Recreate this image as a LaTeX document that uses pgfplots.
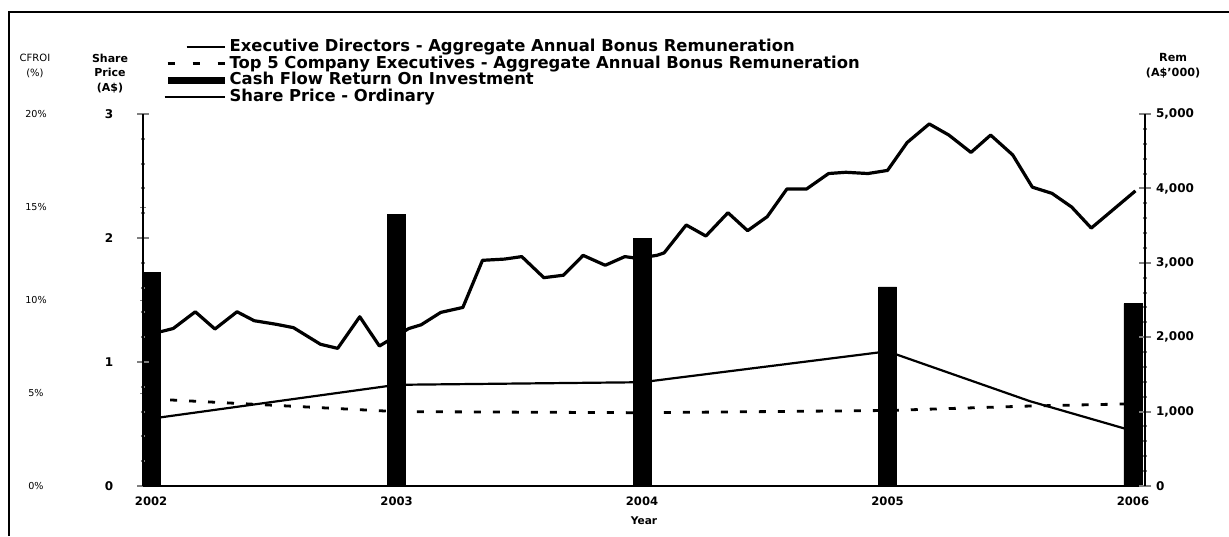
\documentclass[border=0pt]{standalone}
\usepackage{pgfplots}
\pgfplotsset{compat=1.18}
\usepackage{fontspec}
\setmainfont{DejaVu Sans}

\pgfplotstableread{
x y
2002 11.5
2003 14.6
2004 13.3
2005 10.7
2006 9.8
}\cfroi

\pgfplotstableread{
x y
2002.04 1.245
2002.09 1.27
2002.18 1.405
2002.26 1.266
2002.35 1.405
2002.42 1.333
2002.51 1.304
2002.58 1.277
2002.69 1.143
2002.76 1.11
2002.85 1.365
2002.93 1.129
2002.99 1.20
2003.05 1.27
2003.10 1.30
2003.18 1.40
2003.27 1.44
2003.35 1.82
2003.44 1.83
2003.51 1.85
2003.60 1.68
2003.68 1.70
2003.76 1.86
2003.85 1.78
2003.93 1.85
2003.98 1.836
2004.06 1.86
2004.09 1.88
2004.18 2.105
2004.26 2.016
2004.35 2.204
2004.43 2.059
2004.51 2.172
2004.59 2.395
2004.67 2.395
2004.76 2.52
2004.83 2.53
2004.92 2.52
2005.00 2.545
2005.08 2.77
2005.17 2.92
2005.25 2.83
2005.34 2.69
2005.42 2.83
2005.51 2.67
2005.59 2.41
2005.67 2.36
2005.75 2.25
2005.83 2.08
2005.92 2.23
2006.01 2.38
}\share

\pgfplotstableread{
x y
2002 905
2003 1360
2004 1395
2005 1810
2005.58 1140
2006 740
}\execdir

\pgfplotstableread{
x y
2002 1170
2003 1000
2004 985
2005 1015
2005.58 1075
2006 1105
}\topfive

\begin{document}
\begin{tikzpicture}
\path[use as bounding box] (-71.5pt,-25pt) rectangle (543pt,243pt);
\draw[line width=1pt] (-67pt,-25pt) -- (-67pt,237pt) -- (543pt,237pt);

\pgfplotsset{
  base/.style={
    scale only axis, width=501pt, height=186pt,
    xmin=2001.967, xmax=2006.049,
    axis line style={-, line width=1pt},
    ticklabel style={font=\bfseries\fontsize{6}{7}\selectfont},
    /pgf/number format/assume math mode=true,
  }
}

% CFROI axis (bars)
\begin{axis}[base,
  ymin=0, ymax=20,
  axis x line=none,
  axis y line*=left,
  ytick={0,5,10,15,20},
  yticklabels={0\%,5\%,10\%,15\%,20\%},
  yticklabel style={anchor=center, xshift=-52pt, font=\fontsize{4.8}{6}\selectfont},
  major tick length=3pt, tick align=center,
  every axis y label/.style={at={(axis description cs:-0.1078,1.079)}, anchor=south, align=center, font=\fontsize{5}{7.5}\selectfont},
  ylabel={CFROI\\(\%)},
]
\addplot[ybar, bar width=9pt, fill=black, draw=black] table[x=x,y=y] {\cfroi};
\end{axis}

% Share price axis
\begin{axis}[base,
  ymin=0, ymax=3,
  axis x line*=bottom,
  axis y line*=left,
  xtick={2002,2003,2004,2005,2006},
  xticklabels={2002,2003,2004,2005,2006},
  x tick style={draw=none},
  xticklabel style={anchor=north, yshift=1pt, font=\bfseries\fontsize{5.8}{7}\selectfont},
  ytick={0,1,2,3},
  yticklabels={0,1,2,3},
  yticklabel style={anchor=center, xshift=-14pt},
  y tick style={line width=1pt},
  major tick length=6pt, tick align=center,
  minor y tick num=4, minor tick length=2pt,
  every axis y label/.style={at={(axis description cs:-0.0329,1.037)}, anchor=south, align=center, font=\bfseries\fontsize{5.5}{7.3}\selectfont},
  ylabel={Share\\Price\\(A\$)},
  every axis x label/.style={at={(axis description cs:0.5,-0.094)}, anchor=center, font=\bfseries\fontsize{5.3}{7}\selectfont},
  xlabel={Year},
]
\addplot[line width=1.6pt, black, line join=round] table[x=x,y=y] {\share};
\end{axis}

% Remuneration axis
\begin{axis}[base,
  ymin=0, ymax=5000,
  axis x line=none,
  axis y line*=right,
  ytick={0,1000,2000,3000,4000,5000},
  yticklabels={0,{1,000},{2,000},{3,000},{4,000},{5,000}},
  yticklabel style={anchor=west, xshift=-1pt},
  y tick style={line width=1pt},
  major tick length=6pt, tick align=center,
  minor y tick num=4, minor tick length=2pt,
  every axis y label/.style={at={(axis description cs:1.028,1.078)}, anchor=south, align=center, font=\bfseries\fontsize{5.6}{7.3}\selectfont},
  ylabel={Rem\\(A\$'000)},
  legend cell align=left,
  legend style={at={(axis description cs:0.02,1.202)}, anchor=north west, draw=none, fill=none, inner sep=0pt,
    font=\bfseries\fontsize{8.2}{9}\selectfont, row sep=0.15pt, column sep=1.5pt,
    nodes={inner sep=0.3pt, text height=6pt, text depth=1.5pt}},
]
\addlegendimage{legend image code/.code={\draw[line width=1pt,black] (-19pt,0) -- (0pt,0);}}
\addlegendentry{Executive Directors - Aggregate Annual Bonus Remuneration}
\addlegendimage{legend image code/.code={\draw[line width=1.4pt,black,dash pattern=on 3.5pt off 9pt] (-28.5pt,0) -- (0pt,0);}}
\addlegendentry{Top 5 Company Executives - Aggregate Annual Bonus Remuneration}
\addlegendimage{legend image code/.code={\fill[black] (-28pt,-1.5pt) rectangle (0pt,1.5pt);}}
\addlegendentry{Cash Flow Return On Investment}
\addlegendimage{legend image code/.code={\draw[line width=1.2pt,black] (-30pt,0) -- (0pt,0);}}
\addlegendentry{Share Price - Ordinary}
\addplot[line width=1.1pt, black, forget plot] table[x=x,y=y] {\execdir};
\addplot[line width=1.4pt, black, dash pattern=on 3.5pt off 6pt, forget plot] table[x=x,y=y] {\topfive};
\end{axis}
\end{tikzpicture}
\end{document}
